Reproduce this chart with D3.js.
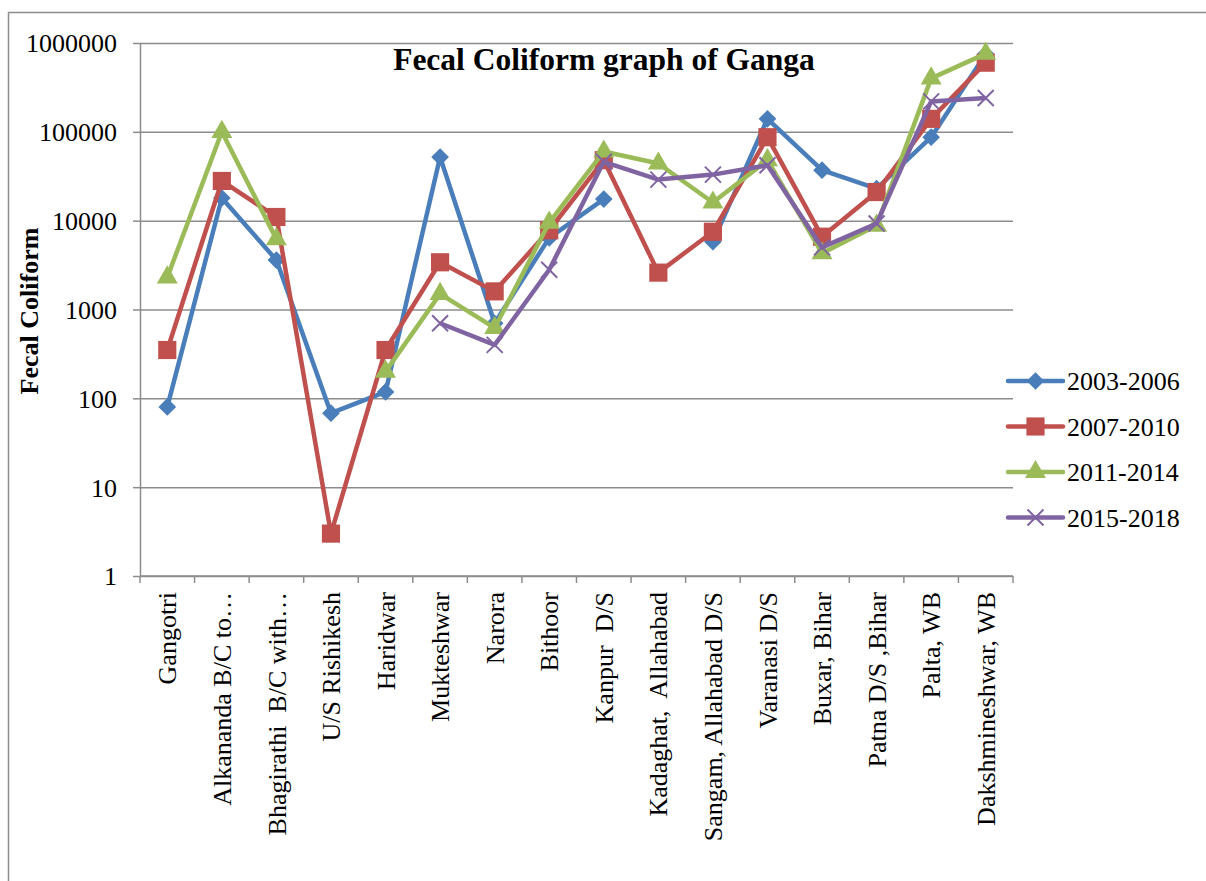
<!DOCTYPE html>
<html>
<head>
<meta charset="utf-8">
<script src="https://cdn.jsdelivr.net/npm/d3@7.9.0/dist/d3.min.js"></script>
<style>
  body { margin: 0; background: #fff; }
  text { font-family: "Liberation Serif", "Times New Roman", serif; fill: #000; }
</style>
</head>
<body>
<div id="chart"></div>
<script>
const categories = [
  'Gangotri', 'Alkananda B/C to…', 'Bhagirathi  B/C with…', 'U/S Rishikesh',
  'Haridwar', 'Mukteshwar', 'Narora', 'Bithoor', 'Kanpur  D/S',
  'Kadaghat,  Allahabad', 'Sangam, Allahabad D/S', 'Varanasi D/S',
  'Buxar, Bihar', 'Patna D/S ,Bihar', 'Palta, WB', 'Dakshmineshwar, WB'
];

const seriesNames = ['2003-2006', '2007-2010', '2011-2014', '2015-2018'];

const values2003 = [80, 18000, 3600, 68, 118, 52000, 700, 6400, 17500, null, 5800, 140000, 37000, 23000, 87000, 750000];
const values2007 = [350, 28000, 11000, 3, 350, 3400, 1600, 7800, 48000, 2600, 7500, 87000, 6600, 21000, 140000, 600000];
const values2011 = [2300, 100000, 6200, null, 200, 1500, 620, 9500, 60000, 44000, 16000, 48000, 4300, 8800, 400000, 760000];
const values2015 = [null, null, null, null, null, 700, 400, 2800, 46000, 29000, 33000, 42000, 5000, 9300, 220000, 240000];

const yTicks = [1, 10, 100, 1000, 10000, 100000, 1000000];

const colors = ['#4a7ebb', '#c0504d', '#9bbb59', '#8064a2'];
const shapes = ['diamond', 'square', 'triangle', 'x'];

const width = 1206;
const height = 881;
const plot = { left: 140, right: 1013, top: 43, bottom: 576 };

const svg = d3.select('#chart')
  .append('svg')
  .attr('width', width)
  .attr('height', height);

// outer chart border
svg.append('rect')
  .attr('x', 8.5)
  .attr('y', 12.5)
  .attr('width', width + 10)
  .attr('height', height + 10)
  .attr('fill', 'none')
  .attr('stroke', '#8c8c8c')
  .attr('stroke-width', 1.5);

const xScale = d3.scaleBand()
  .domain(categories)
  .range([plot.left, plot.right])
  .padding(0);

const yScale = d3.scaleLog()
  .domain([1, 1000000])
  .range([plot.bottom, plot.top]);

// gridlines
svg.append('g')
  .attr('class', 'gridlines')
  .attr('transform', `translate(${plot.left}, 0)`)
  .call(d3.axisLeft(yScale)
    .tickValues(yTicks)
    .tickFormat('')
    .tickSize(-(plot.right - plot.left))
  )
  .call((g) => g.select('.domain').remove())
  .call((g) => g.selectAll('line').attr('stroke', '#8c8c8c').attr('stroke-width', 1.5));

// y axis
svg.append('g')
  .attr('transform', `translate(${plot.left}, 0)`)
  .call(d3.axisLeft(yScale)
    .tickValues(yTicks)
    .tickFormat(d3.format('d'))
    .tickSize(7)
    .tickSizeOuter(0)
    .tickPadding(16)
  )
  .call((g) => g.select('.domain').attr('stroke', '#8c8c8c').attr('stroke-width', 1.5))
  .call((g) => g.selectAll('line').attr('stroke', '#8c8c8c').attr('stroke-width', 1.5))
  .call((g) => g.selectAll('text')
    .style('font-size', '26px')
    .style('font-family', '"Liberation Serif", serif')
    .attr('dy', '0.34em'));

// x axis line and boundary ticks
const xAxis = svg.append('g').attr('class', 'x-axis');
xAxis.append('line')
  .attr('x1', plot.left)
  .attr('x2', plot.right)
  .attr('y1', plot.bottom)
  .attr('y2', plot.bottom)
  .attr('stroke', '#8c8c8c')
  .attr('stroke-width', 1.5);

const tickPositions = categories.map((c) => xScale(c)).concat([plot.right]);
xAxis.selectAll('.tick')
  .data(tickPositions)
  .join('line')
  .attr('x1', (d) => d)
  .attr('x2', (d) => d)
  .attr('y1', plot.bottom)
  .attr('y2', plot.bottom + 7)
  .attr('stroke', '#8c8c8c')
  .attr('stroke-width', 1.5);

xAxis.selectAll('.label')
  .data(categories)
  .join('text')
  .attr('transform', (d) => `translate(${xScale(d) + xScale.bandwidth() / 2}, ${plot.bottom + 16}) rotate(-90)`)
  .attr('text-anchor', 'end')
  .attr('dy', '0.35em')
  .style('font-size', '26px')
  .style('white-space', 'pre')
  .text((d) => d);

// title and axis title
svg.append('text')
  .attr('x', 604)
  .attr('y', 70)
  .attr('text-anchor', 'middle')
  .style('font-size', '31.5px')
  .style('font-weight', 'bold')
  .text('Fecal Coliform graph of Ganga');

svg.append('text')
  .attr('transform', 'translate(38, 311) rotate(-90)')
  .attr('text-anchor', 'middle')
  .style('font-size', '26px')
  .style('font-weight', 'bold')
  .text('Fecal Coliform');

// marker shapes
function markerPath(shape) {
  if (shape === 'diamond') return d3.symbol(d3.symbolDiamond2, 200)();
  if (shape === 'square') return d3.symbol(d3.symbolSquare, 330)();
  if (shape === 'triangle') return d3.symbol(d3.symbolTriangle, 190)();
  return 'M-8,-8L8,8M8,-8L-8,8';
}

function drawMarker(sel, i) {
  sel.append('path')
    .attr('d', markerPath(shapes[i]))
    .attr('fill', shapes[i] === 'x' ? 'none' : colors[i])
    .attr('stroke', colors[i])
    .attr('stroke-width', shapes[i] === 'x' ? 2 : 0);
}

const allSeries = [values2003, values2007, values2011, values2015].map((vals, i) => ({
  name: seriesNames[i],
  color: colors[i],
  points: vals.map((v, j) => ({ cat: categories[j], value: v })),
}));

const line = d3.line()
  .defined((d) => d.value != null)
  .x((d) => xScale(d.cat) + xScale.bandwidth() / 2)
  .y((d) => yScale(d.value));

allSeries.forEach((s, i) => {
  const g = svg.append('g').attr('class', 'series');
  g.append('path')
    .datum(s.points)
    .attr('d', line)
    .attr('fill', 'none')
    .attr('stroke', s.color)
    .attr('stroke-width', 4.5)
    .attr('stroke-linejoin', 'round');

  g.selectAll('.marker')
    .data(s.points.filter((d) => d.value != null))
    .join('g')
    .attr('transform', (d) => `translate(${xScale(d.cat) + xScale.bandwidth() / 2}, ${yScale(d.value)})`)
    .each(function () { drawMarker(d3.select(this), i); });
});

// legend
const legend = svg.append('g').attr('transform', 'translate(1008, 381)');
seriesNames.forEach((name, i) => {
  const row = legend.append('g').attr('transform', `translate(0, ${i * 45.5})`);
  row.append('line')
    .attr('x1', 0)
    .attr('x2', 55)
    .attr('stroke', colors[i])
    .attr('stroke-width', 4.5)
    .attr('stroke-linecap', 'round');
  const m = row.append('g').attr('transform', 'translate(27.5, 0)');
  drawMarker(m, i);
  row.append('text')
    .attr('x', 59)
    .attr('dy', '0.35em')
    .style('font-size', '26px')
    .text(name);
});
</script>
</body>
</html>
